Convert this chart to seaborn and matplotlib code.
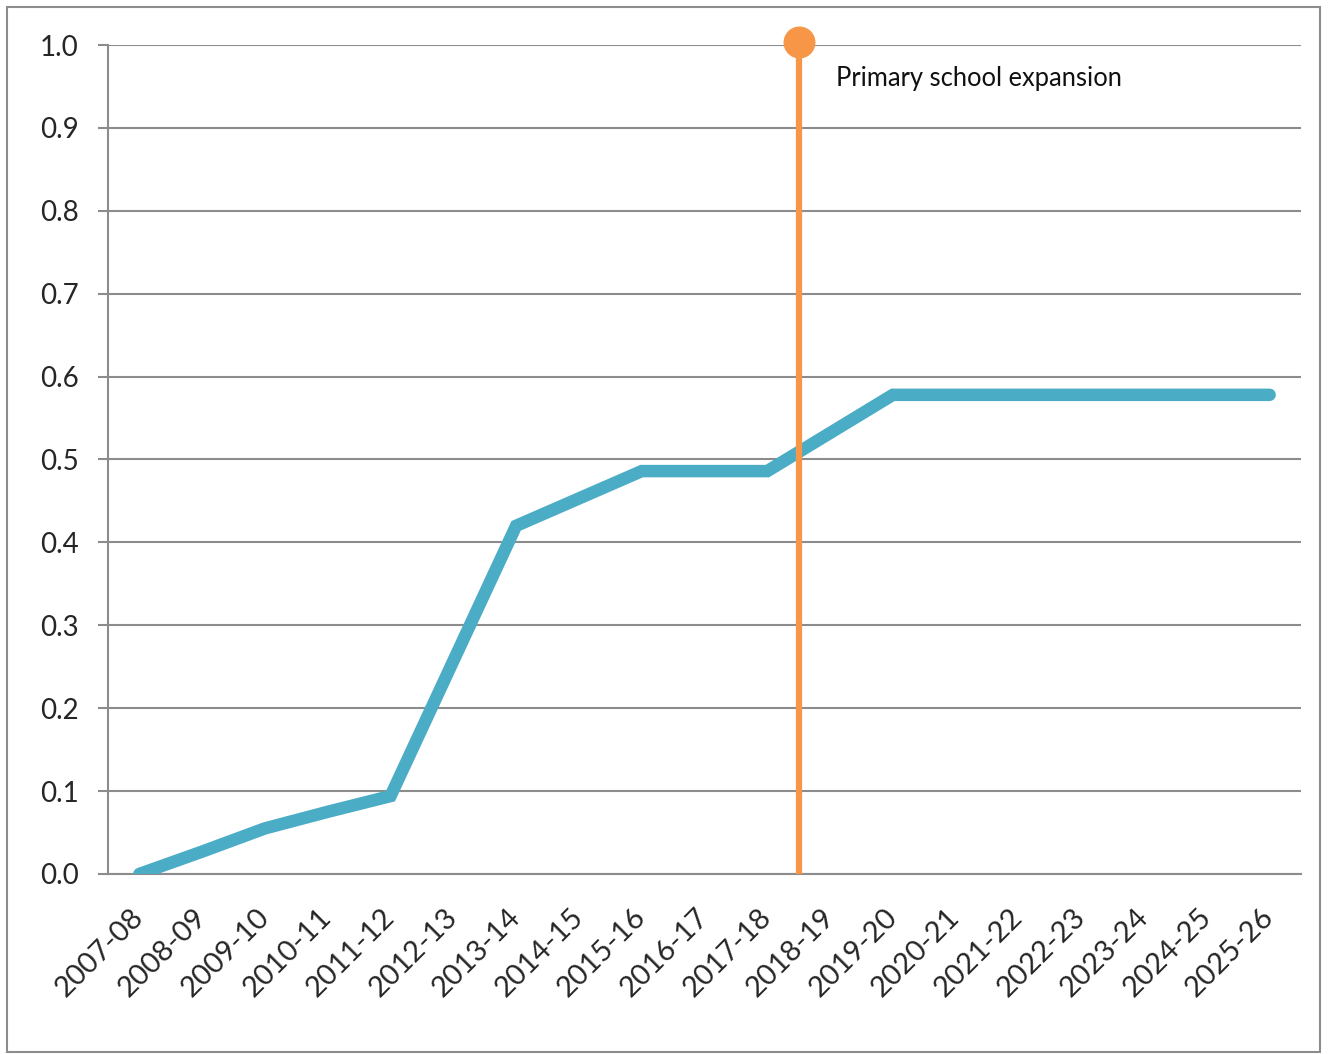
import numpy as np
import pandas as pd
import seaborn as sns
import matplotlib.pyplot as plt

years = ["2007-08", "2008-09", "2009-10", "2010-11", "2011-12", "2012-13", "2013-14",
         "2014-15", "2015-16", "2016-17", "2017-18", "2018-19", "2019-20", "2020-21",
         "2021-22", "2022-23", "2023-24", "2024-25", "2025-26"]
values = [0.0, 0.027, 0.055, 0.075, 0.094, 0.257, 0.42, 0.453, 0.486, 0.486,
          0.486, 0.532, 0.578, 0.578, 0.578, 0.578, 0.578, 0.578, 0.578]
yticks = [0.0, 0.1, 0.2, 0.3, 0.4, 0.5, 0.6, 0.7, 0.8, 0.9, 1.0]
event_pos = 10.5  # boundary between 2017-18 and 2018-19
event_label = "Primary school expansion"

df = pd.DataFrame({"year": years, "value": values})
df["pos"] = np.arange(len(years))

sns.set_style("white")
plt.rcParams["font.family"] = ["Lato", "DejaVu Sans"]

fig = plt.figure(figsize=(13.28, 10.54), dpi=100)
ax = fig.add_axes([0.0813, 0.1708, 0.8984, 0.7865])

grid_col = "#8c8c8c"
for y in yticks:
    ax.axhline(y, color=grid_col, lw=1.5, zorder=1)

sns.lineplot(data=df, x="pos", y="value", ax=ax, color="#4BACC6", lw=9,
             sort=False, zorder=3)
ax.lines[-1].set_solid_capstyle("round")
ax.lines[-1].set_solid_joinstyle("miter")

# event marker
ax.plot([event_pos, event_pos], [0, 1.0], color="#F79646", lw=4.5, zorder=4)
ax.plot([event_pos], [1.004], "o", color="#F79646", ms=22, zorder=5, clip_on=False)
ax.text(event_pos + 0.59, 0.960, event_label, fontsize=18.4, va="center", ha="left",
        color="#111111")

ax.set_xlim(-0.5, len(years) - 0.5)
ax.set_ylim(0, 1.0)
ax.set_yticks(yticks)
ax.set_yticklabels([f"{v:.1f}" for v in yticks], fontsize=20)
ax.set_xticks(np.arange(len(years) + 1) - 0.5)
ax.set_xticklabels([])
ax.set_xticks(np.arange(len(years)), minor=True)
ax.set_xticklabels(years, minor=True, rotation=45, ha="right", va="center",
                   rotation_mode="anchor", fontsize=21)
ax.tick_params(axis="x", which="major", length=7, width=1.5, color=grid_col, direction="out")
ax.tick_params(axis="x", which="minor", length=0, pad=28)
ax.tick_params(axis="y", length=7, width=1.5, color=grid_col, pad=14, left=True)
ax.set_xlabel("")
ax.set_ylabel("")

for s in ["top", "right"]:
    ax.spines[s].set_visible(False)
for s in ["left", "bottom"]:
    ax.spines[s].set_color(grid_col)
    ax.spines[s].set_linewidth(1.5)

fig.add_artist(plt.Rectangle((0.0053, 0.0017), 0.9887, 0.9917, transform=fig.transFigure,
                             fill=False, edgecolor="#8c8c8c", lw=1.5))

fig.savefig("out.png", dpi=100)
